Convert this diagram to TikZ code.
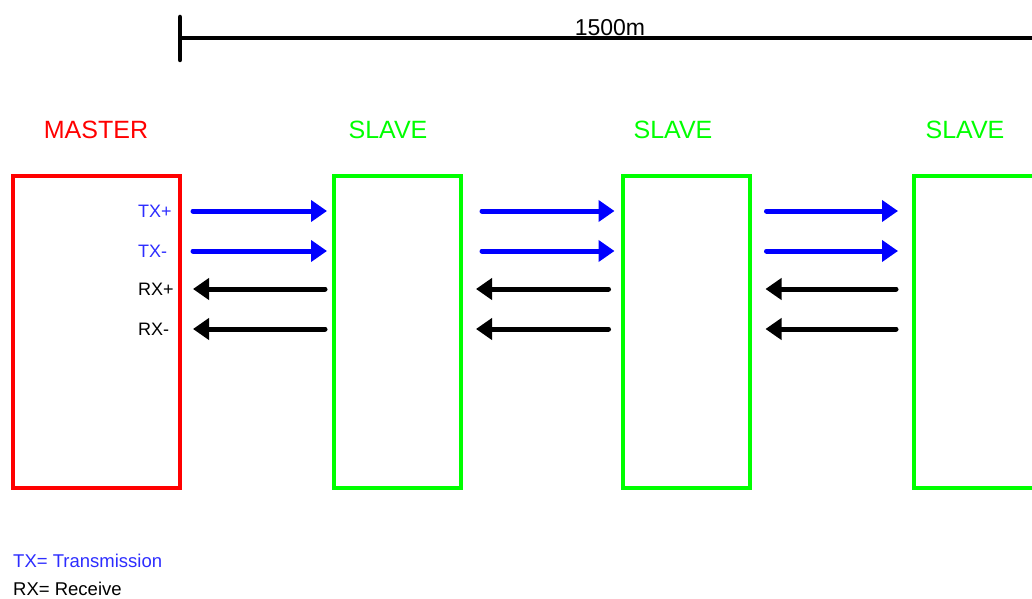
\documentclass[tikz,border=0pt]{standalone}
\usepackage{fontspec}
\setmainfont{Liberation Sans}
\usetikzlibrary{arrows.meta,calc}
\definecolor{mred}{RGB}{255,0,0}
\definecolor{sgreen}{RGB}{0,255,0}
\definecolor{wblue}{RGB}{0,0,255}
\definecolor{tblue}{RGB}{45,45,255}
\begin{document}
\begin{tikzpicture}[x=1pt,y=1pt,
  unitbox/.style={draw, line width=4pt, rectangle, inner sep=0pt, minimum width=#1, minimum height=312pt},
  masterbox/.style={unitbox=167pt, mred},
  slavebox/.style={unitbox=127pt, sgreen},
  title/.style={font=\fontsize{25}{29}\selectfont, inner sep=0pt},
  pin/.style={font=\fontsize{18}{21}\selectfont, inner sep=0pt, anchor=west},
  legend/.style={font=\fontsize{18.5}{22}\selectfont, inner sep=0pt, anchor=base west},
  wire/.style={line width=5pt, line cap=round, -{Triangle[length=16pt,width=21pt]}},
  txwire/.style={wire, wblue},
  rxwire/.style={wire, black}]
\useasboundingbox (0,0) rectangle (1032,598);
\clip (0,0) rectangle (1032,598);

% distance scale
\coordinate (rs) at (180,560);
\coordinate (re) at (1040,560);
\coordinate (tt) at (180,581);
\coordinate (tb) at (180,538);
\draw[line width=4.5pt] (rs) -- (re);
\draw[line width=4.5pt, line cap=round] (tt) -- (tb);
\node[font=\fontsize{23}{27}\selectfont, inner sep=0pt, anchor=base] (dist) at (610,562) {1500m};

% units
\node[masterbox] (m)  at (96.5,266) {};
\node[slavebox]  (s1) at (397.5,266) {};
\node[slavebox]  (s2) at (686,266) {};
\node[slavebox]  (s3) at (977.5,266) {};

\node[title, text=mred]   (tm)  at (96,468)  {MASTER};
\node[title, text=sgreen] (ts1) at (388,468) {SLAVE};
\node[title, text=sgreen] (ts2) at (673,468) {SLAVE};
\node[title, text=sgreen] (ts3) at (965,468) {SLAVE};

% signal rows
\coordinate (r1) at (0,387);
\coordinate (r2) at (0,347);
\coordinate (r3) at (0,309);
\coordinate (r4) at (0,269);

\node[pin, text=tblue] (ltp) at (138,387) {TX+};
\node[pin, text=tblue] (ltm) at (138,347) {TX-};
\node[pin] (lrp) at (138,309) {RX+};
\node[pin] (lrm) at (138,269) {RX-};

% master -- slave 1
\draw[txwire] ($(m.east |- r1)+(11,0)$) -- ($(s1.west |- r1)+(-5,0)$);
\draw[txwire] ($(m.east |- r2)+(11,0)$) -- ($(s1.west |- r2)+(-5,0)$);
\draw[rxwire] ($(s1.west |- r3)+(-7,0)$) -- ($(m.east |- r3)+(11,0)$);
\draw[rxwire] ($(s1.west |- r4)+(-7,0)$) -- ($(m.east |- r4)+(11,0)$);

% slave 1 -- slave 2
\draw[txwire] ($(s1.east |- r1)+(19,0)$) -- ($(s2.west |- r1)+(-6,0)$);
\draw[txwire] ($(s1.east |- r2)+(19,0)$) -- ($(s2.west |- r2)+(-6,0)$);
\draw[rxwire] ($(s2.west |- r3)+(-12,0)$) -- ($(s1.east |- r3)+(13,0)$);
\draw[rxwire] ($(s2.west |- r4)+(-12,0)$) -- ($(s1.east |- r4)+(13,0)$);

% slave 2 -- slave 3
\draw[txwire] ($(s2.east |- r1)+(15,0)$) -- ($(s3.west |- r1)+(-14,0)$);
\draw[txwire] ($(s2.east |- r2)+(15,0)$) -- ($(s3.west |- r2)+(-14,0)$);
\draw[rxwire] ($(s3.west |- r3)+(-16,0)$) -- ($(s2.east |- r3)+(14,0)$);
\draw[rxwire] ($(s3.west |- r4)+(-16,0)$) -- ($(s2.east |- r4)+(14,0)$);

% legend
\node[legend, text=tblue] (lgt) at (13,31) {TX= Transmission};
\node[legend] (lgr) at (13,3) {RX= Receive};
\end{tikzpicture}
\end{document}
